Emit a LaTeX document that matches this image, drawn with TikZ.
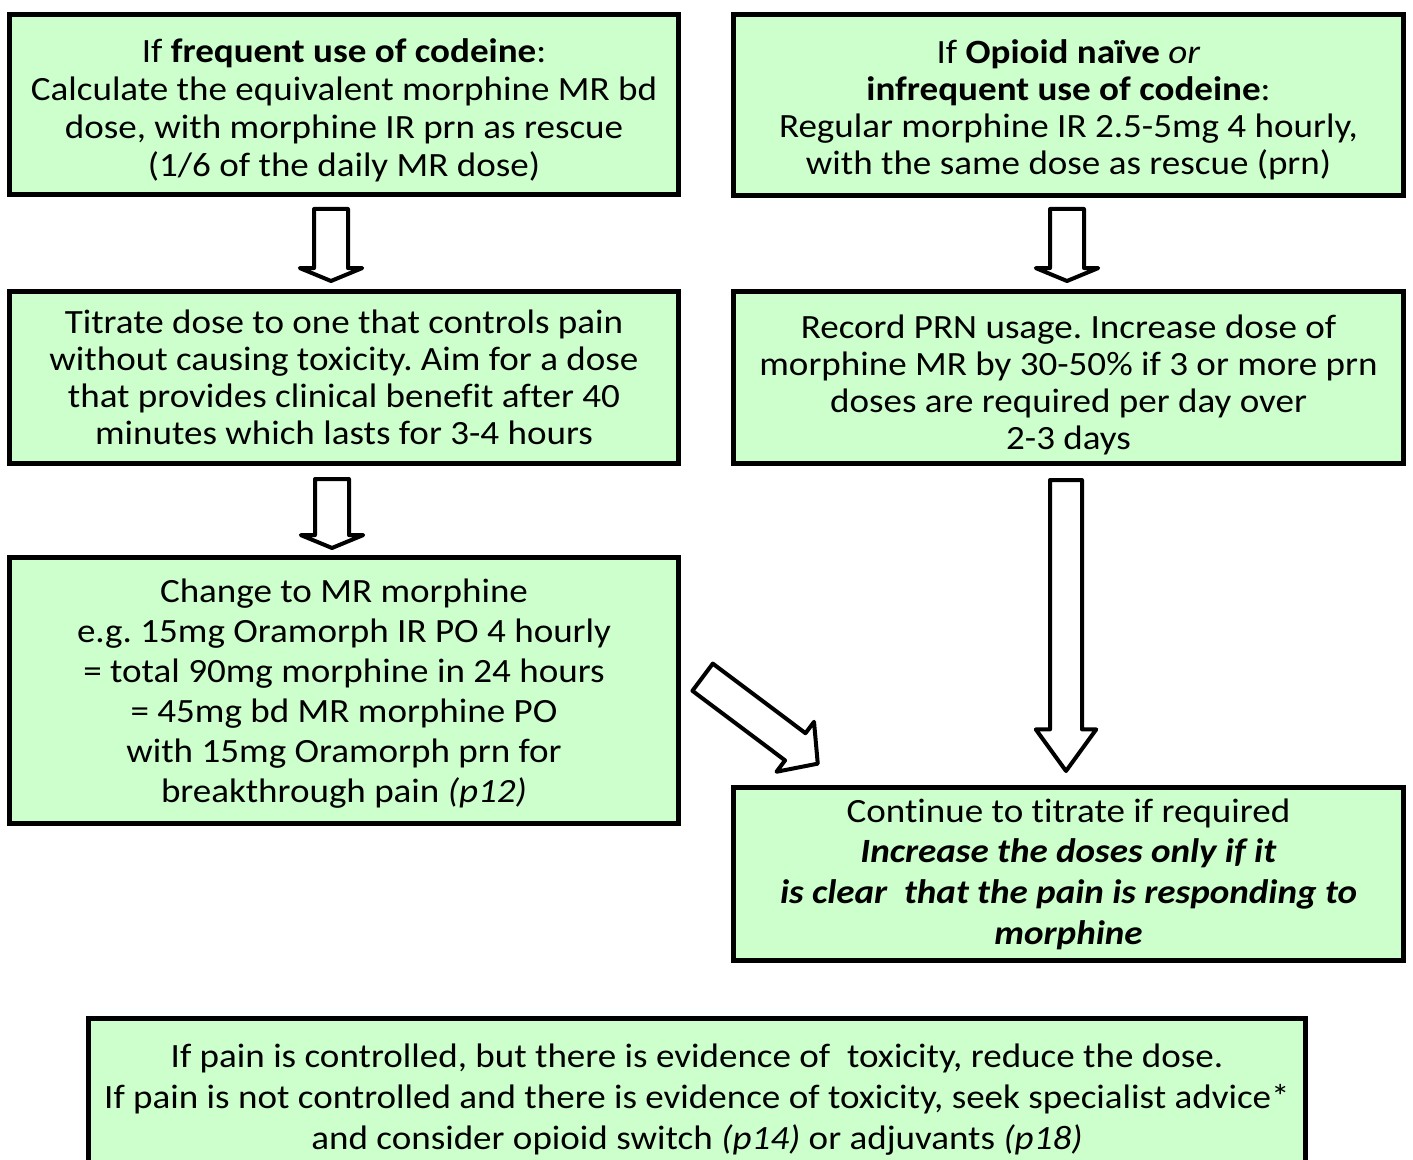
\documentclass[tikz,border=0pt]{standalone}
\usepackage{fontspec}
\setmainfont{Carlito}[Ligatures={NoCommon}, FakeStretch=1.09]
\usetikzlibrary{shapes.arrows}
\definecolor{boxgreen}{HTML}{CCFFCC}
\tikzset{
  box/.style={draw, line width=2.5pt, fill=boxgreen, inner sep=0pt},
  txt/.style={inner sep=0pt, align=center, font=\fontsize{17}{19}\selectfont},
  barrow/.style={single arrow, draw, line width=2pt, line join=round, fill=white, inner xsep=0pt,
    inner ysep=7.5pt, single arrow head indent=0pt, anchor=tail},
}
\begin{document}
\frenchspacing
\begin{tikzpicture}[x=0.5pt,y=-0.5pt]
\useasboundingbox (0,0) rectangle (1413,1160);
\clip (0,0) rectangle (1413,1160);
% boxes
\node[box, minimum width=334.5pt, minimum height=90pt] (b1) at (344,104.5) {};
\node[box, minimum width=335pt, minimum height=90.5pt] (b2) at (1068.5,105) {};
\node[box, minimum width=334.5pt, minimum height=86pt] (b3) at (344,377.5) {};
\node[box, minimum width=335pt, minimum height=86pt] (b4) at (1068.5,377.5) {};
\node[box, minimum width=334.5pt, minimum height=133pt] (b5) at (344,690.5) {};
\node[box, minimum width=335pt, minimum height=86.5pt] (b6) at (1068.5,874) {};
\node[box, minimum width=608.5pt, minimum height=82pt] (b7) at (697,1100) {};
% texts
\node[txt, yshift=-3pt] (t1) at (b1.center)
  {If \textbf{frequent use of codeine}:\\Calculate the equivalent morphine MR bd\\dose, with morphine IR prn as rescue\\(1/6 of the daily MR dose)};
\node[txt, yshift=-2.5pt, font=\fontsize{17}{18.5}\selectfont] (t2) at (b2.center)
  {If \textbf{Opioid naïve} \textit{or}\\\textbf{infrequent use of codeine}:\\Regular morphine IR 2.5-5mg 4 hourly,\\with the same dose as rescue (prn)};
\node[txt, font=\fontsize{17}{18.5}\selectfont] (t3) at (b3.center)
  {Titrate dose to one that controls pain\\without causing toxicity. Aim for a dose\\that provides clinical benefit after 40\\minutes which lasts for 3-4 hours};
\node[txt, yshift=-3.5pt, font=\fontsize{17}{18.5}\selectfont] (t4) at (b4.center)
  {Record PRN usage. Increase dose of\\morphine MR by 30-50\% if 3 or more prn\\doses are required per day over\\2-3 days};
\node[txt, yshift=-1.5pt, font=\fontsize{17}{20}\selectfont] (t5) at (b5.center)
  {Change to MR morphine\\e.g. 15mg Oramorph IR PO 4 hourly\\= total 90mg morphine in 24 hours\\= 45mg bd MR morphine PO\\with 15mg Oramorph prn for\\breakthrough pain \textit{(p12)}};
\node[txt, font=\fontsize{17}{20.3}\selectfont] (t6) at (b6.center)
  {Continue to titrate if required\\\textbf{\textit{Increase the doses only if it}}\\\textbf{\textit{is clear~ that the pain is responding to}}\\\textbf{\textit{morphine}}};
\node[txt, font=\fontsize{17}{20.5}\selectfont] (t7) at (b7.center)
  {If pain is controlled, but there is evidence of~ toxicity, reduce the dose.\\If pain is not controlled and there is evidence of toxicity, seek specialist advice*\\and consider opioid switch \textit{(p14)} or adjuvants \textit{(p18)}};
% block arrows
\node[barrow, rotate=-90, minimum height=36pt, minimum width=28pt, single arrow tip angle=135] (a1) at (331,207) {};
\node[barrow, rotate=-90, minimum height=36pt, minimum width=28pt, single arrow tip angle=135] (a2) at (1067,207) {};
\node[barrow, rotate=-90, minimum height=34.5pt, minimum width=28pt, single arrow tip angle=135] (a3) at (332,477) {};
\node[barrow, rotate=-90, minimum height=145.5pt, minimum width=29pt, inner ysep=7pt, single arrow tip angle=72] (a4) at (1066,478) {};
\node[barrow, rotate=-36.9, minimum height=72pt, minimum width=27.5pt, single arrow tip angle=96] (a5) at (701,676) {};
\end{tikzpicture}
\end{document}
